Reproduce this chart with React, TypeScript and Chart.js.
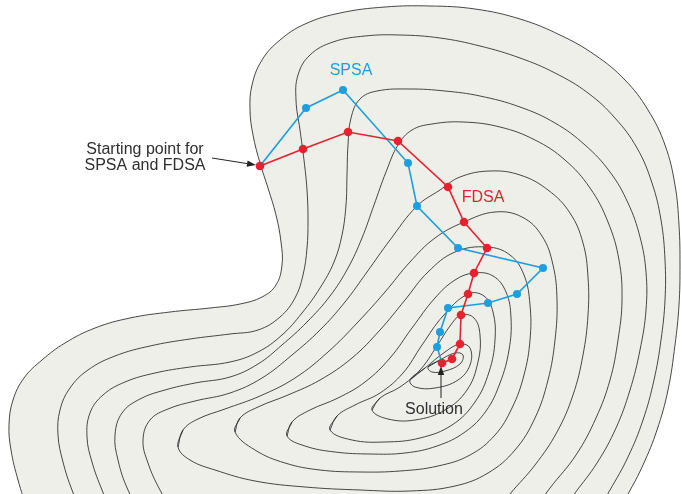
import React, { useEffect, useRef } from "react";
import { Chart, registerables } from "chart.js";
Chart.register(...registerables);

// Diagram coordinates (x to the right, y downward), 681 x 494 units
const X_MAX = 681;
const Y_MAX = 494;

// Optimisation paths
const fdsaPath: number[][] = [
  [260, 166], [303, 149], [348, 132], [398, 141], [448, 187], [464, 222], [487, 248],
  [474, 273], [468, 294], [461, 315], [460, 344], [452, 359], [442, 363],
];
const spsaPath: number[][] = [
  [260, 166], [306, 108], [343, 90], [408, 163], [417, 206], [458, 248], [543, 268],
  [517, 294], [488, 303], [448, 308], [440, 332], [437, 347], [442, 363],
];

// Contour lines (outermost first). Outer ones leave the picture at the bottom.
const contour0: number[][] = [
  [28, 512], [18, 480], [11, 450], [9, 425], [13, 400], [24, 378], [42, 360], [65, 343],
  [95, 328], [130, 318], [170, 312], [210, 308], [240, 304], [262, 297], [276, 285],
  [282, 265], [281, 242], [276, 215], [268, 188], [260, 163], [253, 135], [250, 110],
  [252, 85], [262, 60], [280, 40], [305, 24], [340, 13], [385, 7], [430, 6], [475, 9],
  [520, 19], [560, 35], [595, 55], [625, 80], [648, 110], [665, 145], [675, 185],
  [679, 225], [680, 265], [679, 305], [675, 345], [668, 390], [657, 430], [643, 465],
  [628, 494], [610, 525],
];
const contour1: number[][] = [
  [85, 520], [72, 490], [63, 462], [58, 435], [60, 410], [70, 388], [88, 370], [115, 356],
  [150, 346], [190, 339], [230, 334], [258, 330], [280, 317], [295, 298], [303, 275],
  [307, 248], [308, 220], [307, 190], [304, 160], [300, 130], [296, 100], [298, 75],
  [310, 55], [333, 42], [365, 36], [400, 35], [440, 38], [480, 46], [520, 58], [555, 73],
  [588, 93], [615, 118], [637, 148], [652, 183], [661, 220], [665, 260], [665, 300],
  [661, 340], [654, 380], [643, 420], [628, 457], [610, 490], [595, 515],
];
const contour2: number[][] = [
  [115, 520], [102, 490], [92, 462], [87, 437], [90, 413], [103, 395], [125, 382],
  [155, 373], [190, 367], [230, 362], [258, 352], [282, 335], [302, 313], [320, 288],
  [334, 262], [342, 235], [346, 205], [347, 175], [348, 145], [351, 118], [360, 99],
  [377, 91], [410, 89], [445, 91], [480, 96], [520, 107], [555, 123], [585, 145],
  [610, 172], [628, 203], [640, 237], [646, 272], [646, 310], [640, 350], [630, 390],
  [616, 428], [597, 463], [575, 493], [555, 520],
];
const contour3: number[][] = [
  [145, 520], [128, 490], [118, 460], [115, 435], [122, 413], [140, 399], [165, 390],
  [195, 383], [230, 377], [258, 364], [282, 345], [307, 322], [330, 296], [348, 268],
  [362, 238], [374, 205], [386, 172], [398, 145], [412, 130], [432, 124], [463, 122],
  [500, 127], [535, 140], [565, 160], [590, 188], [608, 222], [619, 260], [622, 300],
  [618, 340], [610, 380], [596, 418], [576, 455], [550, 488], [530, 515],
];
const contour4: number[][] = [
  [178, 520], [160, 490], [148, 463], [143, 440], [150, 420], [168, 409], [195, 401],
  [230, 393], [262, 378], [292, 355], [320, 330], [345, 302], [367, 272], [390, 240],
  [417, 206], [440, 190], [460, 177], [490, 171], [520, 175], [548, 190], [570, 213],
  [583, 243], [588, 277], [588, 315], [583, 355], [573, 395], [557, 432], [535, 465],
  [510, 494], [490, 520],
];
// Closed contours around the solution
const contour5: number[][] = [
  [178, 447], [183, 430], [198, 419], [225, 409], [260, 396], [295, 378], [328, 352],
  [358, 322], [385, 292], [410, 262], [435, 238], [464, 222], [495, 212], [522, 217],
  [542, 236], [553, 265], [557, 300], [555, 340], [548, 380], [535, 418], [515, 450],
  [488, 473], [455, 486], [410, 491], [360, 490], [305, 487], [255, 481], [215, 470],
  [190, 460],
];
const contour6: number[][] = [
  [235, 432], [240, 418], [258, 407], [288, 395], [320, 380], [352, 358], [380, 330],
  [405, 300], [428, 272], [455, 252], [487, 247], [510, 255], [524, 275], [530, 305],
  [530, 340], [524, 375], [512, 408], [495, 435], [470, 455], [438, 466], [400, 471],
  [360, 472], [320, 470], [285, 463], [255, 450],
];
const contour7: number[][] = [
  [287, 436], [292, 422], [310, 410], [338, 398], [365, 382], [390, 358], [412, 328],
  [435, 298], [455, 280], [474, 273], [493, 276], [506, 292], [511, 318], [509, 350],
  [500, 383], [486, 411], [465, 432], [437, 446], [405, 453], [370, 454], [335, 452],
  [305, 446],
];
const contour8: number[][] = [
  [330, 430], [337, 416], [355, 405], [380, 393], [403, 373], [422, 345], [443, 316],
  [468, 294], [484, 296], [493, 312], [495, 340], [489, 372], [475, 402], [452, 425],
  [420, 438], [385, 442], [352, 440],
];
const contour9: number[][] = [
  [372, 410], [380, 398], [400, 387], [420, 370], [437, 346], [450, 326], [461, 315],
  [474, 318], [480, 335], [478, 362], [467, 390], [445, 410], [415, 420], [388, 419],
];
const contour10: number[][] = [
  [410, 380], [425, 368], [445, 352], [460, 344], [470, 348], [470, 365], [458, 380],
  [435, 388], [415, 387],
];
const contour11: number[][] = [
  [428, 367], [440, 360], [455, 353], [463, 355], [460, 364], [445, 371], [432, 372],
];

const openContours = [contour0, contour1, contour2, contour3, contour4];
const closedContours = [contour5, contour6, contour7, contour8, contour9, contour10, contour11];

// Text labels and arrows
const labelTexts = ["SPSA", "FDSA", "Starting point for", "SPSA and FDSA", "Solution"];
const labelX = [351, 483, 145, 145, 434];
const labelY = [71, 198, 150, 166, 410];
const arrowFrom: number[][] = [[212, 158], [441, 398]];
const arrowTo: number[][] = [[256, 165], [441, 366]];

const BLUE = "#1d9fdf";
const RED = "#e52330";
const FILL = "#efefea";
const LINE = "rgba(40,40,40,0.85)";

const toXY = (pts: number[][]) => pts.map(([x, y]) => ({ x, y }));
const closeLoop = (pts: number[][]) => pts.concat([pts[0], pts[1]]);

const annotationPlugin = {
  id: "annotations",
  afterDatasetsDraw(chart: any) {
    const { ctx, scales } = chart;
    const px = (v: number) => scales.x.getPixelForValue(v);
    const py = (v: number) => scales.y.getPixelForValue(v);
    ctx.save();
    ctx.strokeStyle = "#222";
    ctx.fillStyle = "#222";
    ctx.lineWidth = 1;
    arrowFrom.forEach((f, i) => {
      const t = arrowTo[i];
      const x1 = px(f[0]), y1 = py(f[1]), x2 = px(t[0]), y2 = py(t[1]);
      const ang = Math.atan2(y2 - y1, x2 - x1);
      const len = 9, hw = 3.2;
      const bx = x2 - len * Math.cos(ang), by = y2 - len * Math.sin(ang);
      ctx.beginPath();
      ctx.moveTo(x1, y1);
      ctx.lineTo(bx, by);
      ctx.stroke();
      ctx.beginPath();
      ctx.moveTo(x2, y2);
      ctx.lineTo(bx + hw * Math.sin(ang), by - hw * Math.cos(ang));
      ctx.lineTo(bx - hw * Math.sin(ang), by + hw * Math.cos(ang));
      ctx.closePath();
      ctx.fill();
    });
    ctx.textAlign = "center";
    ctx.textBaseline = "middle";
    labelTexts.forEach((txt, i) => {
      const color = i === 0 ? BLUE : i === 1 ? RED : "#2e2e2e";
      ctx.font = `16px "Liberation Sans", Arial, sans-serif`;
      ctx.fillStyle = color;
      ctx.fillText(txt, px(labelX[i]), py(labelY[i]));
    });
    ctx.restore();
  },
};

export default function App() {
  const canvasRef = useRef<HTMLCanvasElement | null>(null);

  useEffect(() => {
    document.body.style.margin = "0";
    document.body.style.overflow = "hidden";
    const canvas = canvasRef.current;
    if (!canvas) return;

    const contourDatasets: any[] = [];
    openContours.forEach((c, i) => {
      contourDatasets.push({
        label: `contour${i}`,
        data: toXY(c),
        borderColor: LINE,
        borderWidth: 1,
        pointRadius: 0,
        tension: 0.4,
        fill: i === 0 ? "shape" : false,
        backgroundColor: FILL,
        order: 30 - i,
      });
    });
    closedContours.forEach((c, i) => {
      contourDatasets.push({
        label: `contour${i + 5}`,
        data: toXY(closeLoop(c)),
        borderColor: LINE,
        borderWidth: 1,
        pointRadius: 0,
        tension: 0.4,
        fill: false,
        order: 20 - i,
      });
    });

    const chart = new Chart(canvas, {
      type: "line",
      data: {
        datasets: [
          {
            label: "FDSA",
            data: toXY(fdsaPath),
            borderColor: RED,
            backgroundColor: RED,
            borderWidth: 1.6,
            pointRadius: 4.3,
            pointBorderWidth: 0,
            tension: 0,
            fill: false,
            order: 0,
          },
          {
            label: "SPSA",
            data: toXY(spsaPath),
            borderColor: BLUE,
            backgroundColor: BLUE,
            borderWidth: 1.6,
            pointRadius: spsaPath.map((_, i) => (i === spsaPath.length - 1 ? 0 : 4)),
            pointBorderWidth: 0,
            tension: 0,
            fill: false,
            order: 1,
          },
          ...contourDatasets,
        ],
      },
      options: {
        animation: false,
        responsive: true,
        maintainAspectRatio: false,
        events: [],
        layout: { padding: 0, autoPadding: false },
        plugins: {
          legend: { display: false },
          tooltip: { enabled: false },
          title: { display: false },
        },
        scales: {
          x: { type: "linear", min: 0, max: X_MAX, display: false },
          y: { type: "linear", min: 0, max: Y_MAX, reverse: true, display: false },
        },
      },
      plugins: [annotationPlugin],
    });
    return () => chart.destroy();
  }, []);

  return (
    <div style={{ width: 681, height: 494, position: "relative", background: "#ffffff" }}>
      <canvas ref={canvasRef} />
    </div>
  );
}
